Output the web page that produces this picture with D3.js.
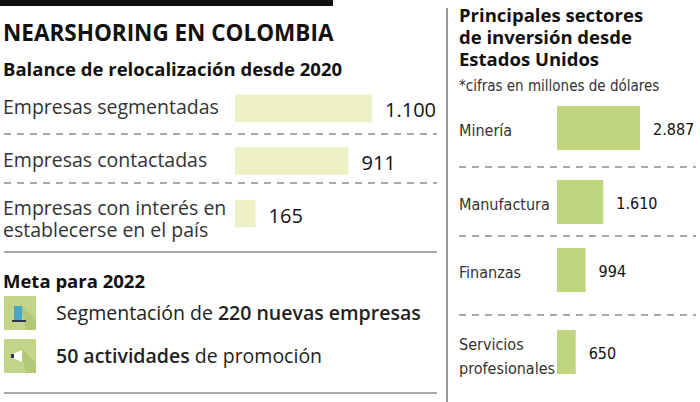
<!DOCTYPE html>
<html><head><meta charset="UTF-8">
<style>body{margin:0;background:#fff}svg{display:block}</style>
</head><body><svg width="700" height="402"></svg>
<script src="https://d3js.org/d3.v7.min.js"></script>
<script>
const balanceLabels = [["Empresas segmentadas"], ["Empresas contactadas"], ["Empresas con interés en", "establecerse en el país"]];
const balanceValues = [1100, 911, 165];
const sectorLabels = [["Minería"], ["Manufactura"], ["Finanzas"], ["Servicios", "profesionales"]];
const sectorValues = [2887, 1610, 994, 650];
const fmt = v => d3.format(",")(v).replace(/,/g, ".");

const svg = d3.select("svg");
const F = "'Open Sans', sans-serif", FC = "'DejaVu Sans Condensed', 'DejaVu Sans', sans-serif";

svg.append("rect").attr("x", 0).attr("y", 0).attr("width", 333).attr("height", 6).attr("fill", "#111");
svg.append("text").attr("x", 3).attr("y", 41).attr("font-family", F).attr("font-weight", 700).attr("font-size", 22.5).attr("fill", "#111").text("NEARSHORING EN COLOMBIA");
svg.append("text").attr("x", 3).attr("y", 76).attr("font-family", F).attr("font-weight", 700).attr("font-size", 18.5).attr("fill", "#111").text("Balance de relocalización desde 2020");

// left bars
const xL = d3.scaleLinear().domain([0, 1100]).range([0, 137]);
const yL = d3.scaleBand().domain(d3.range(3)).range([88, 230]).paddingInner(0.4).paddingOuter(0.05);
const gL = svg.append("g");
balanceValues.forEach((v, i) => {
  const y = yL(i), h = yL.bandwidth();
  gL.append("rect").attr("x", 235).attr("y", y + 4).attr("width", xL(v)).attr("height", h - 4).attr("fill", "#eef0c6");
  gL.append("text").attr("x", 235 + xL(v) + 13).attr("y", y + h / 2 + 11).attr("font-family", F).attr("font-size", 20).attr("fill", "#111").text(fmt(v));
  const lines = balanceLabels[i];
  lines.forEach((l, j) => gL.append("text").attr("x", 3).attr("y", y + h / 2 + 8 + (lines.length > 1 ? -5 + j * 22 : 0))
    .attr("font-family", F).attr("font-size", 19.5).attr("fill", "#333").text(l));
});
[134, 183].forEach(y => svg.append("line").attr("x1", 4).attr("x2", 437).attr("y1", y).attr("y2", y).attr("stroke", "#555").attr("stroke-dasharray", "7,6"));
[252, 393].forEach(y => svg.append("line").attr("x1", 4).attr("x2", 437).attr("y1", y).attr("y2", y).attr("stroke", "#555"));

svg.append("text").attr("x", 3).attr("y", 288).attr("font-family", F).attr("font-weight", 700).attr("font-size", 18.5).attr("fill", "#111").text("Meta para 2022");
const metas = [[["Segmentación de ", 400], ["220 nuevas empresas", 600]], [["50 actividades", 600], [" de promoción", 400]]];
metas.forEach((m, i) => {
  const y = 296 + i * 43;
  svg.append("rect").attr("x", 4).attr("y", y).attr("width", 32).attr("height", 34).attr("fill", "#c3d588");
  svg.append("path").attr("d", `M${20} ${y + 8}L${36} ${y + 24}L${36} ${y + 34}L${26} ${y + 34}Z`).attr("fill", "#b2c875");
  if (i === 0) {
    svg.append("rect").attr("x", 14).attr("y", y + 10).attr("width", 8).attr("height", 14).attr("fill", "#4aa6c8");
    svg.append("rect").attr("x", 12).attr("y", y + 24).attr("width", 14).attr("height", 2).attr("fill", "#335");
  } else {
    svg.append("path").attr("d", `M13 ${y + 15}L22 ${y + 11}L22 ${y + 23}L13 ${y + 19}Z`).attr("fill", "#fff");
    svg.append("rect").attr("x", 11).attr("y", y + 15).attr("width", 3).attr("height", 4).attr("fill", "#335");
  }
  const t = svg.append("text").attr("x", 56).attr("y", y + 24).attr("font-family", F).attr("font-size", 19.5).attr("fill", "#222");
  m.forEach(([s, w]) => t.append("tspan").attr("font-weight", w).text(s));
});

svg.append("line").attr("x1", 447).attr("x2", 447).attr("y1", 8).attr("y2", 402).attr("stroke", "#999").attr("stroke-width", 2);

// right panel
["Principales sectores", "de inversión desde", "Estados Unidos"].forEach((s, i) =>
  svg.append("text").attr("x", 459).attr("y", 22 + i * 22).attr("font-family", F).attr("font-weight", 700).attr("font-size", 18.5).attr("fill", "#111").text(s));
svg.append("text").attr("x", 459).attr("y", 91).attr("font-family", FC).attr("font-size", 15).attr("fill", "#333").text("*cifras en millones de dólares");

const xR = d3.scaleLinear().domain([0, 2887]).range([0, 83]);
const yR = [106, 180, 248, 330];
sectorValues.forEach((v, i) => {
  const y = yR[i];
  svg.append("rect").attr("x", 557).attr("y", y).attr("width", xR(v)).attr("height", 44).attr("fill", "#bfd67e");
  svg.append("text").attr("x", 557 + xR(v) + 13).attr("y", y + 29).attr("font-family", FC).attr("font-size", 16).attr("fill", "#111").text(fmt(v));
  const lines = sectorLabels[i];
  lines.forEach((l, j) => svg.append("text").attr("x", 459).attr("y", y + 30 + (lines.length > 1 ? -10 + j * 24 : 0))
    .attr("font-family", FC).attr("font-size", 16).attr("fill", "#333").text(l));
});
[167, 236, 315].forEach(y => svg.append("line").attr("x1", 459).attr("x2", 696).attr("y1", y).attr("y2", y).attr("stroke", "#555").attr("stroke-dasharray", "7,6"));
</script></body></html>
